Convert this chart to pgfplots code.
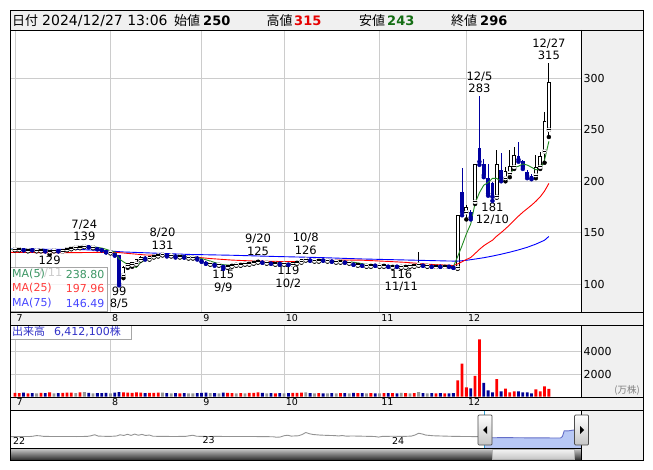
\documentclass[border=0pt]{standalone}
\usepackage{fontspec}
\setmainfont{DejaVu Sans}
\newfontfamily\jp{Noto Sans CJK JP}
\usepackage{pgfplots}
\usepackage{pgfplotstable}
\pgfplotsset{compat=1.18}
\definecolor{gridc}{RGB}{204,204,204}
\definecolor{stripbg}{RGB}{240,240,240}
\definecolor{dnblue}{RGB}{0,0,160}
\definecolor{maG}{RGB}{34,139,34}
\definecolor{maR}{RGB}{255,0,0}
\definecolor{maB}{RGB}{0,0,255}
\definecolor{txG}{RGB}{60,150,100}
\definecolor{txR}{RGB}{255,60,60}
\definecolor{txB}{RGB}{70,70,255}
\definecolor{volR}{RGB}{255,0,0}
\definecolor{volB}{RGB}{0,0,150}
\definecolor{volG}{RGB}{150,150,150}
\definecolor{navfill}{RGB}{184,200,245}
\definecolor{navline}{RGB}{100,110,200}
\definecolor{cyanl}{RGB}{50,160,210}
\definecolor{hdrR}{RGB}{230,0,0}
\definecolor{hdrG}{RGB}{20,110,20}
\definecolor{voltx}{RGB}{50,50,200}

\pgfplotstableread{
i O H L C V k
0 134 135 133 134 320 1
1 134 135 133 135 300 1
2 135 135 133 133 340 -1
3 133 134 132 134 290 1
4 134 135 133 133 310 -1
5 133 134 132 133 280 0
6 133 134 132 134 330 1
7 134 134 132 132 300 -1
8 132 133 129 133 360 1
9 133 134 132 133 290 0
10 133 134 132 132 300 -1
11 132 134 132 134 320 1
12 134 135 133 135 340 1
13 135 136 134 136 350 1
14 136 137 135 136 300 0
15 136 138 135 137 360 1
16 137 139 136 137 380 0
17 137 138 136 136 330 -1
18 136 137 135 136 290 0
19 136 136 134 134 310 -1
20 134 135 133 133 300 -1
21 133 133 131 131 320 -1
22 131 132 130 131 290 0
23 131 131 128 128 340 -1
24 128 128 99 101 390 -1
25 109 118 106 116 370 1
26 118 121 116 120 350 1
27 119 121 117 121 330 1
28 120 125 119 124 360 1
29 124 127 123 126 340 1
30 126 127 124 125 300 -1
31 125 127 124 127 320 1
32 127 129 126 128 330 1
33 128 130 127 129 340 1
34 129 131 128 129 350 0
35 129 130 127 128 300 -1
36 128 129 127 128 280 0
37 128 129 126 127 300 -1
38 127 128 126 128 290 1
39 128 128 126 126 310 -1
40 126 127 125 126 280 0
41 126 127 125 126 270 0
42 126 127 124 125 300 -1
43 125 125 122 122 330 -1
44 122 123 120 120 340 -1
45 120 121 119 120 300 0
46 120 121 118 119 310 -1
47 119 120 118 119 280 0
48 118 119 115 117 350 -1
49 117 119 116 118 320 1
50 118 120 117 119 300 1
51 119 120 118 119 280 0
52 119 121 118 120 310 1
53 120 121 119 120 290 0
54 120 122 119 121 320 1
55 121 123 120 122 330 1
56 122 125 121 123 360 1
57 123 123 121 121 320 -1
58 121 122 120 121 280 0
59 121 122 120 120 300 -1
60 120 121 119 121 290 1
61 121 121 119 120 300 -1
62 120 121 119 120 280 0
63 120 120 119 119 310 -1
64 119 121 119 121 320 1
65 121 123 120 122 330 1
66 122 124 121 124 350 1
67 124 126 123 124 360 0
68 124 125 123 123 310 -1
69 123 124 122 123 280 0
70 123 124 122 124 300 1
71 124 125 123 123 290 -1
72 123 124 122 123 270 0
73 123 124 122 122 300 -1
74 122 123 121 122 280 0
75 122 123 121 123 300 1
76 123 123 121 121 310 -1
77 121 122 120 121 280 0
78 121 122 119 119 320 -1
79 119 120 118 120 300 1
80 120 120 118 118 310 -1
81 118 119 117 118 290 0
82 118 119 117 119 300 1
83 119 119 118 118 290 -1
84 118 119 117 118 280 0
85 118 119 117 119 300 1
86 119 119 117 117 310 -1
87 117 118 116 118 300 1
88 118 118 117 117 290 -1
89 117 118 116 117 320 0
90 117 118 116 118 300 1
91 118 119 117 118 280 0
92 118 119 117 119 300 1
93 119 131 118 119 380 0
94 119 120 118 118 310 -1
95 118 119 117 118 280 0
96 118 119 117 117 300 -1
97 117 118 117 118 290 1
98 118 118 117 117 300 -1
99 117 118 117 118 290 1
100 118 118 117 117 280 -1
101 117 118 116 116 300 -1
102 116 167 115 167 1450 1
103 190 213 167 170 2940 1
104 170 177 163 175 820 1
105 170 172 163 165 730 -1
106 180 216 178 216 1850 1
107 232 283 216 219 5090 1
108 217 222 204 206 1210 -1
109 203 217 186 188 545 -1
110 198 199 181 185 360 -1
111 185 230 184 216 1545 1
112 211 227 200 203 450 -1
113 203 214 200 210 700 1
114 208 230 204 214 360 1
115 214 233 212 225 450 1
116 225 238 219 221 450 -1
117 220 221 212 214 360 -1
118 209 211 203 205 360 -1
119 205 207 202 203 270 -1
120 206 226 203 213 640 1
121 214 228 212 224 450 1
122 229 267 218 258 900 1
123 250 315 243 296 680 1
}\prices

\pgfplotsset{
  panel/.style={scale only axis, anchor=south west, width=571pt,
    xmin=-1.13, xmax=130.4,
    axis line style={draw=none}, major tick length=0pt,
    grid=major, major grid style={gridc, line width=0.8pt},
    xtick={0,22,43,62,84,104}, xticklabels={7,8,9,10,11,12},
    xticklabel style={anchor=north west, inner sep=0pt, xshift=1.5pt, yshift=-2pt, font=\fontsize{9.5}{10}\selectfont},
    yticklabel pos=right,
    yticklabel style={anchor=west, inner sep=0pt, xshift=2.5pt, font=\fontsize{11}{12}\selectfont}},
  upsel/.style={restrict expr to domain={\thisrow{C}-\thisrow{O}}{0:1000}},
  dnsel/.style={restrict expr to domain={\thisrow{C}-\thisrow{O}}{-1000:-0.5}},
}
\tikzset{anot/.style={font=\fontsize{11.5}{12.3}\selectfont, align=center, inner sep=0pt, text=black}}

\begin{document}
\begin{tikzpicture}
\path[use as bounding box] (0,0) rectangle (653pt,-470pt);
\fill[white] (0,0) rectangle (653pt,-470pt);
\begin{scope}[x=1pt,y=-1pt]
\fill[stripbg] (10,10) rectangle (643,30);
\fill[stripbg] (581,30) rectangle (643,460);
\fill[stripbg] (10,312) rectangle (643,325);
\fill[stripbg] (10,397) rectangle (643,410);
\end{scope}

% ---------------- price panel
\begin{axis}[panel, at={(10pt,-312pt)}, height=282pt,
  ymin=73.1, ymax=346.9,
  ytick={100,150,200,250,300}, yticklabels={100,150,200,250,300}]
% wicks
\addplot[black, only marks, mark=none, upsel,
  error bars/.cd, y dir=plus, y explicit, error mark=none,
  error bar style={line width=0.9pt, black}]
  table[x=i, y=L, y error expr=\thisrow{H}-\thisrow{L}] {\prices};
\addplot[dnblue, only marks, mark=none, dnsel,
  error bars/.cd, y dir=plus, y explicit, error mark=none,
  error bar style={line width=0.9pt, dnblue}]
  table[x=i, y=L, y error expr=\thisrow{H}-\thisrow{L}] {\prices};
% up bodies (hollow)
\addplot[black, only marks, mark=none, upsel,
  error bars/.cd, y dir=plus, y explicit, error mark=none,
  error bar style={line width=3.8pt, black}]
  table[x=i, y=O, y error expr=\thisrow{C}-\thisrow{O}] {\prices};
\addplot[white, only marks, mark=none, upsel,
  error bars/.cd, y dir=plus, y explicit, error mark=none,
  error bar style={line width=2pt, white}]
  table[x=i, y=O, y error expr=\thisrow{C}-\thisrow{O}] {\prices};
\addplot[black, only marks, mark=-, mark size=1.9pt, mark options={line width=0.9pt, black}, upsel]
  table[x=i, y=O] {\prices};
\addplot[black, only marks, mark=-, mark size=1.9pt, mark options={line width=0.9pt, black}, upsel]
  table[x=i, y=C] {\prices};
% down bodies
\addplot[dnblue, only marks, mark=none, dnsel,
  error bars/.cd, y dir=plus, y explicit, error mark=none,
  error bar style={line width=3.8pt, dnblue}]
  table[x=i, y=C, y error expr=\thisrow{O}-\thisrow{C}] {\prices};
% moving averages
\addplot[maB, line width=0.9pt] coordinates {(-1.2,134.3) (0,134.3) (15,133.8) (21,132.6) (25,131.4) (30,130.6) (35,129.8) (40,129) (50,128.2) (55,127.6) (60,127) (70,126) (80,124.6) (90,123.6) (100,122.6) (102,122.5) (104,123.3) (106,124.5) (108,125.8) (110,127.4) (112,129.2) (114,131.2) (116,133.4) (118,135.9) (120,139) (122,142.8) (123,146.49)};
\addplot[maR, line width=0.9pt] coordinates {(-1.2,131) (0,131) (10,130.6) (20,131) (22,131.2) (24,130.8) (26,130) (30,128.5) (35,127.8) (40,127) (45,125) (50,123.5) (55,122.6) (60,122.2) (65,122) (70,122.8) (75,123.5) (80,123.4) (85,122.4) (90,121.3) (95,119.5) (100,118.5) (101,118.2) (102,119.8) (103,121.9) (104,124.1) (105,126) (106,129.9) (107,133.9) (108,137.4) (109,140.2) (110,142.8) (111,146.8) (112,150.2) (113,153.9) (114,157.8) (115,162.1) (116,166.2) (117,170) (118,173.4) (119,176.8) (120,180.6) (121,184.9) (122,190.5) (123,197.96)};
\addplot[maG, line width=0.9pt] coordinates {(-1.2,134) (0,134) (2,134) (4,134) (6,133.2) (8,132.8) (10,132.8) (12,133.2) (14,134.6) (16,136.2) (18,136.6) (20,135.2) (21,134) (22,132.6) (23,131.4) (24,124.8) (25,121.8) (26,119.2) (27,117.2) (28,116.4) (29,121.4) (30,123.2) (31,124.6) (32,126) (33,127) (34,128) (35,128.2) (36,128.2) (37,128) (38,128) (39,127.4) (40,127) (42,126.2) (43,125) (44,123.8) (45,122.6) (46,121.2) (47,120) (48,119) (50,118.4) (52,118.6) (54,119.4) (56,120.8) (58,121.6) (60,121) (62,120.4) (64,120.2) (66,121.2) (67,122.6) (69,123.2) (71,123.4) (73,123) (75,122.6) (77,122) (79,120.8) (81,119.2) (83,118.2) (85,118.4) (87,118) (89,117.6) (91,117.6) (93,118) (95,118.2) (97,117.8) (99,117.6) (101,117.2) (102,127) (103,137.6) (104,149) (105,158.6) (106,178.6) (107,189) (108,196.2) (109,198.8) (110,202.8) (111,202.8) (112,199.6) (113,200.4) (114,205.6) (115,213.6) (116,214.6) (117,216.8) (118,215.8) (119,213.6) (120,211.2) (121,211.8) (122,220.6) (123,238.8)};
% annotations
\node[anot, anchor=south, yshift=3pt] at (axis cs:16,139) {7/24\\139};
\node[anot, anchor=north, yshift=-1.5pt] at (axis cs:8,129) {129\\7/11};
\node[anot, anchor=south, yshift=3pt] at (axis cs:34,131) {8/20\\131};
\node[anot, anchor=north, yshift=-1.5pt] at (axis cs:24,99) {99\\8/5};
\node[anot, anchor=north, yshift=-1.5pt] at (axis cs:48,115) {115\\9/9};
\node[anot, anchor=south, yshift=3pt] at (axis cs:56,125) {9/20\\125};
\node[anot, anchor=north, yshift=-1.5pt] at (axis cs:63,119) {119\\10/2};
\node[anot, anchor=south, yshift=3pt] at (axis cs:67,126) {10/8\\126};
\node[anot, anchor=north, yshift=-1.5pt] at (axis cs:89,116) {116\\11/11};
\node[anot, anchor=south, yshift=3pt] at (axis cs:107,283) {12/5\\283};
\node[anot, anchor=north, yshift=-1.5pt] at (axis cs:110,181) {181\\12/10};
\node[anot, anchor=south, yshift=3pt] at (axis cs:123,315) {12/27\\315};
\end{axis}

% ---------------- volume panel
\begin{axis}[panel, at={(10pt,-396.5pt)}, height=71.5pt,
  ymin=0, ymax=6380,
  ytick={2000,4000}, yticklabels={2000,4000}]
\addplot[ybar, bar width=2.8pt, bar shift=0pt, fill=volR, draw=none,
  restrict expr to domain={\thisrow{k}}{0.5:1.5}] table[x=i, y=V] {\prices};
\addplot[ybar, bar width=2.8pt, bar shift=0pt, fill=volB, draw=none,
  restrict expr to domain={\thisrow{k}}{-1.5:-0.5}] table[x=i, y=V] {\prices};
\addplot[ybar, bar width=2.8pt, bar shift=0pt, fill=volG, draw=none,
  restrict expr to domain={\thisrow{k}}{-0.4:0.4}] table[x=i, y=V] {\prices};
\end{axis}

% ---------------- navigator
\begin{axis}[scale only axis, anchor=south west, at={(10pt,-448pt)},
  width=571pt, height=38pt, xmin=-1.26, xmax=155.6, ymin=-80, ymax=680, hide axis]
\addplot[fill=navfill, draw=none] coordinates {(129.1,-80) (129.1,122) (131,125) (134,127) (137,126) (140,124) (143,123) (146,122) (148,120) (150,121) (150.5,150) (151,265) (152,262) (153,272) (154,285) (155,290) (155.6,298) (155.6,-80)};
\addplot[gray!85, line width=0.9pt] coordinates {(-1.26,148) (2,150) (4,149) (5,155) (6,168) (7,163) (8,152) (11,150) (14,151) (17,149) (20,152) (21,165) (22,185) (23,158) (26,151) (28,160) (29,185) (30,170) (31,195) (32,172) (33,198) (34,175) (35,192) (36,170) (37,180) (38,155) (41,152) (44,150) (47,153) (48,165) (49,175) (50,155) (53,150) (56,152) (59,149) (62,151) (65,150) (68,148) (71,145) (72,135) (73,140) (74,165) (75,175) (76,158) (78,165) (79,190) (80,230) (81,205) (82,190) (84,178) (86,172) (88,168) (89,160) (90,170) (91,158) (93,160) (96,155) (99,150) (100,138) (101,152) (104,155) (107,152) (109,158) (110,180) (111,215) (112,200) (113,178) (115,165) (118,158) (121,152) (124,150) (127,148) (129.1,146)};
\addplot[navline, line width=0.9pt] coordinates {(129.1,122) (131,125) (134,127) (137,126) (140,124) (143,123) (146,122) (148,120) (150,121) (150.5,150) (151,265) (152,262) (153,272) (154,285) (155,290) (155.6,298)};
\end{axis}

% ---------------- overlays
\begin{scope}[x=1pt,y=-1pt]
\begin{scope}[every node/.style={anchor=base west, inner sep=0pt, font=\fontsize{13}{15}\selectfont}]
\node at (12,25.5) {\jp 日付};
\node at (42,25.5) {\fontsize{14}{16}\selectfont 2024/12/27 13:06};
\node at (174,25.5) {\jp 始値};
\node at (203,25.5) {\bfseries 250};
\node at (266.5,25.5) {\jp 高値};
\node[text=hdrR] at (294,25.5) {\bfseries 315};
\node at (359,25.5) {\jp 安値};
\node[text=hdrG] at (387,25.5) {\bfseries 243};
\node at (451,25.5) {\jp 終値};
\node at (480,25.5) {\bfseries 296};
\end{scope}
\fill[white, opacity=0.8] (10,267.5) rectangle (107,311.5);
\draw[gray!70, line width=0.8pt] (10.5,267.5) rectangle (107,311.5);
\begin{scope}[every node/.style={inner sep=0pt, font=\fontsize{11}{12}\selectfont}]
\node[anchor=west, text=txG] at (12,274) {MA(5)};
\node[anchor=east, text=txG] at (104.5,274) {238.80};
\node[anchor=west, text=txR] at (12,288.5) {MA(25)};
\node[anchor=east, text=txR] at (104.5,288.5) {197.96};
\node[anchor=west, text=txB] at (12,303) {MA(75)};
\node[anchor=east, text=txB] at (104.5,303) {146.49};
\end{scope}
\fill[white] (10,325) rectangle (131,339.5);
\draw[gray!70, line width=0.8pt] (10.5,325) rectangle (131,339.5);
\node[anchor=west, inner sep=0pt, text=voltx, font=\fontsize{11}{12}\selectfont] at (12,332) {{\jp 出来高}\hspace{0.8em}6,412,100{\jp 株}};
\node[anchor=east, inner sep=0pt, text=gray, font=\fontsize{9.5}{10}\selectfont] at (640,390) {\jp (万株)};
\begin{scope}[every node/.style={anchor=west, inner sep=0pt, font=\fontsize{9.5}{10}\selectfont}]
\node at (13,440.5) {22};
\node at (202.5,440.5) {23};
\node at (392,440.5) {24};
\end{scope}
\draw[cyanl, line width=0.8pt] (484.5,410) -- (484.5,448);
\draw[cyanl, line width=0.8pt] (581,410) -- (581,448);
\shade[top color=gray!35, bottom color=black!80] (10,448) rectangle (581,459.5);
\shade[top color=gray!8, bottom color=gray!45] (492.5,449) rectangle (574,459);
\draw[gray!60, line width=0.6pt] (492.5,449) rectangle (574,459);
\draw[black, line width=0.9pt] (10,10) rectangle (643,460);
\draw[black, line width=0.8pt] (10,30) -- (643,30);
\draw[black, line width=0.8pt] (10,312) -- (643,312);
\draw[black, line width=0.8pt] (10,325) -- (643,325);
\draw[black, line width=0.8pt] (10,397) -- (643,397);
\draw[black, line width=0.8pt] (10,410) -- (643,410);
\draw[black, line width=0.8pt] (10,448) -- (581,448);
\draw[black, line width=0.8pt] (581,30) -- (581,312);
\draw[black, line width=0.8pt] (581,325) -- (581,397);
\draw[black, line width=0.8pt] (581,410) -- (581,460);
\shade[top color=white, bottom color=gray!45, rounded corners=1pt] (478,415) rectangle (492,445);
\draw[black!70, rounded corners=1pt, line width=0.7pt] (478,415) rectangle (492,445);
\fill[black] (483,430) -- (487,426) -- (487,434) -- cycle;
\shade[top color=white, bottom color=gray!45, rounded corners=1pt] (574.5,415) rectangle (588.5,445);
\draw[black!70, rounded corners=1pt, line width=0.7pt] (574.5,415) rectangle (588.5,445);
\fill[black] (584,430) -- (580,426) -- (580,434) -- cycle;
\end{scope}
\end{tikzpicture}
\end{document}
